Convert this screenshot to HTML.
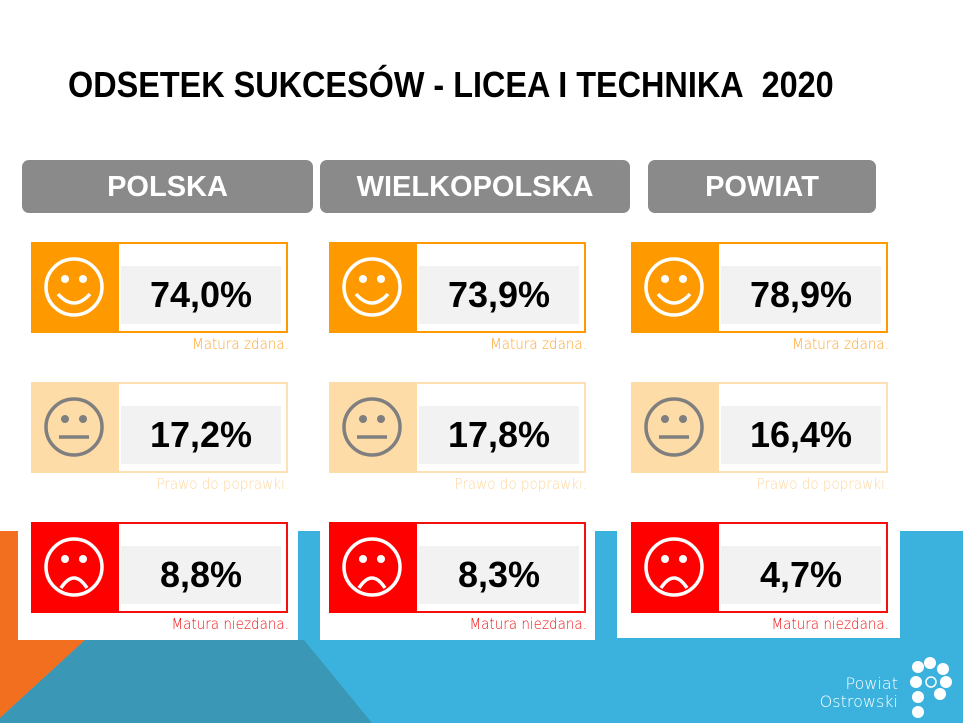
<!DOCTYPE html>
<html><head><meta charset="utf-8"><style>
body{margin:0;width:963px;height:723px;position:relative;overflow:hidden;background:#fff;font-family:"Liberation Sans",sans-serif}
.a{position:absolute}
.title{left:68px;top:64px;font-weight:bold;font-size:36px;white-space:nowrap;transform-origin:left top;transform:scaleX(0.9);color:#000}
.hdr{position:absolute;top:160px;height:53px;background:#8a8a8a;border-radius:7px;color:#fff;font-weight:bold;font-size:29px;text-align:center;line-height:55px}
.card{position:absolute;width:257px;height:91px;border:2px solid;box-sizing:border-box;background:#fff}
.icon{position:absolute;left:-2px;top:-2px;width:88px;height:91px}
.val{position:absolute;left:88px;top:22px;width:160px;height:58px;background:#f2f2f2;font-weight:bold;font-size:36px;text-align:center;line-height:58px;color:#000}
.lbl{position:absolute;font-size:15px;text-align:right;width:257px;font-family:"DejaVu Sans",sans-serif;transform-origin:right top;transform:scaleX(0.9);font-weight:300}
</style></head><body>
<svg class="a" style="left:0;top:0" width="963" height="723">
<rect x="0" y="531" width="963" height="192" fill="#3bb2de"/>
<polygon points="0,531 18,531 18,640 85,640 0,718" fill="#f36f20"/>
<polygon points="85,640 304,640 372,723 0,723 0,718" fill="#3a97b5"/>
<rect x="18" y="525" width="280" height="115" fill="#fff"/>
<rect x="320" y="525" width="275" height="115" fill="#fff"/>
<rect x="617" y="525" width="283" height="113" fill="#fff"/>
<g fill="#fff"><circle cx="918" cy="667" r="6"/><circle cx="930" cy="663" r="6"/><circle cx="943" cy="669" r="6"/><circle cx="916" cy="682" r="6"/><circle cx="931" cy="682" r="5" fill="none" stroke="#fff" stroke-width="1.5"/><circle cx="946" cy="682" r="6"/><circle cx="918" cy="697" r="6"/><circle cx="940" cy="694" r="6"/><circle cx="918" cy="712" r="6"/></g>
<text x="898" y="689" font-size="16" fill="#fff" text-anchor="end" font-family="DejaVu Sans" font-weight="300">Powiat</text>
<text x="898" y="707" font-size="16" fill="#fff" text-anchor="end" font-family="DejaVu Sans" font-weight="300">Ostrowski</text>
</svg>
<div class="a title">ODSETEK SUKCESÓW - LICEA I TECHNIKA&nbsp; 2020</div>
<div class="hdr" style="left:22px;width:291px">POLSKA</div>
<div class="hdr" style="left:320px;width:310px">WIELKOPOLSKA</div>
<div class="hdr" style="left:648px;width:228px">POWIAT</div>
<div id="c"></div>
<script>
var cols=[[31,['74,0%','17,2%','8,8%']],[329,['73,9%','17,8%','8,3%']],[631,['78,9%','16,4%','4,7%']]];
var rows=[[242,'#ff9900','#ff9900','#fff','Matura zdana.','#ffa530',0],[382,'#fddca8','#fde0b4','#7f7f7f','Prawo do poprawki.','#fdd7a0',1],[522,'#ff0000','#f51010','#fff','Matura niezdana.','#f01010',2]];
var h='';
cols.forEach(function(c){rows.forEach(function(r){
var x=c[0],y=r[0];
var mouth=r[6]==0?'<path d="M27,52 Q43,70 59,52" fill="none" stroke="'+r[3]+'" stroke-width="3.5"/>':r[6]==1?'<line x1="28" y1="55" x2="58" y2="55" stroke="'+r[3]+'" stroke-width="3.5"/>':'<path d="M30,66 Q43,46 56,66" fill="none" stroke="'+r[3]+'" stroke-width="3.5"/>';
h+='<div class="card" style="left:'+x+'px;top:'+y+'px;border-color:'+r[2]+'"><svg class="icon" width="88" height="91"><rect width="88" height="91" fill="'+r[1]+'"/><circle cx="43" cy="45" r="28" fill="none" stroke="'+r[3]+'" stroke-width="3.5"/><circle cx="34" cy="37" r="4" fill="'+r[3]+'"/><circle cx="52" cy="37" r="4" fill="'+r[3]+'"/>'+mouth+'</svg><div class="val">'+c[1][r[6]]+'</div></div>';
h+='<div class="lbl" style="left:'+(x+1)+'px;top:'+(y+93)+'px;color:'+r[5]+'">'+r[4]+'</div>';
});});
document.getElementById('c').innerHTML=h;
</script>
</body></html>
